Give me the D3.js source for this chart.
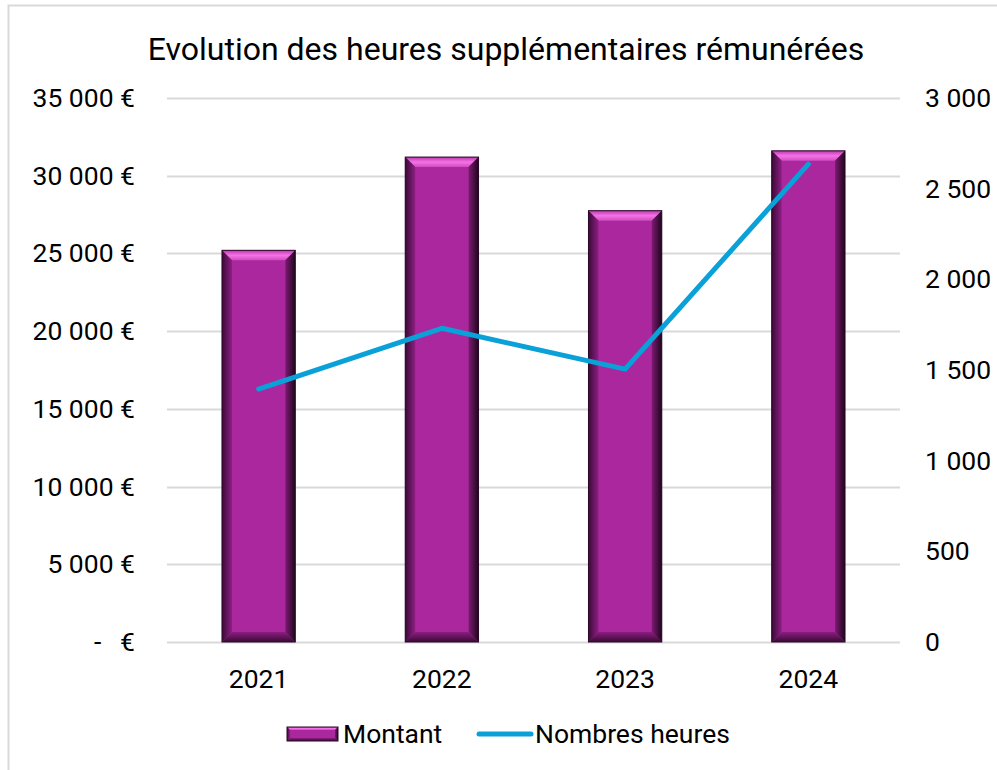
<!DOCTYPE html>
<html>
<head>
<meta charset="utf-8">
<script src="https://cdn.jsdelivr.net/npm/d3@7"></script>
<style>
  body { margin: 0; background: #fff; }
  text { font-family: Roboto, "Noto Sans", sans-serif; fill: #000; }
</style>
</head>
<body>
<div id="chart"></div>
<script>

// data
var years = ["2021", "2022", "2023", "2024"];
var montant = [25200, 31200, 27750, 31600];
var heures = [1395, 1730, 1505, 2635];
var leftTicks = [0, 5000, 10000, 15000, 20000, 25000, 30000, 35000];
var rightTicks = [0, 500, 1000, 1500, 2000, 2500, 3000];

var W = 997, H = 770;
var margin = {top: 98, right: 97, bottom: 128, left: 167},
    width = W - margin.left - margin.right,
    height = H - margin.top - margin.bottom;

var svg = d3.select("#chart")
  .append("svg")
    .attr("width", W)
    .attr("height", H);

// chart border
svg.append("rect")
  .attr("x", 8.5).attr("y", 5.5)
  .attr("width", W + 20).attr("height", H + 20)
  .attr("fill", "none")
  .attr("stroke", "#d9d9d9")
  .attr("stroke-width", 2);

// title
svg.append("text")
  .attr("x", 506).attr("y", 60)
  .attr("text-anchor", "middle")
  .style("font-size", "32px")
  .text("Evolution des heures supplémentaires rémunérées");

var g = svg.append("g")
  .attr("transform", "translate(" + margin.left + "," + margin.top + ")");

var x = d3.scaleBand()
  .domain(years)
  .range([0, width])
  .paddingInner(0.6)
  .paddingOuter(0.3);

var yL = d3.scaleLinear().domain([0, 35000]).range([height, 0]);
var yR = d3.scaleLinear().domain([0, 3000]).range([height, 0]);

// gridlines
g.append("g")
  .selectAll("line")
  .data(leftTicks)
  .enter().append("line")
    .attr("x1", 0).attr("x2", width)
    .attr("y1", function(d) { return Math.round(yL(d)) + 0.5 })
    .attr("y2", function(d) { return Math.round(yL(d)) + 0.5 })
    .attr("stroke", "#d9d9d9")
    .attr("stroke-width", 2);

var fs = "26.5px";

// left axis labels (accounting style)
g.append("g")
  .selectAll("text")
  .data(leftTicks)
  .enter().append("text")
    .attr("x", -32)
    .attr("y", function(d) { return yL(d) + 9 })
    .attr("text-anchor", "end")
    .style("font-size", fs)
    .text(function(d) { return d === 0 ? "€" : d3.format(",")(d).replace(/,/g, " ") + " €" });
g.append("text")
  .attr("x", -73)
  .attr("y", yL(0) + 9)
  .style("font-size", fs)
  .text("-");

// right axis labels
g.append("g")
  .selectAll("text")
  .data(rightTicks)
  .enter().append("text")
    .attr("x", width + 25)
    .attr("y", function(d) { return yR(d) + 9 })
    .attr("text-anchor", "start")
    .style("font-size", fs)
    .text(function(d) { return d3.format(",")(d).replace(/,/g, " ") });

// x labels
g.append("g")
  .selectAll("text")
  .data(years)
  .enter().append("text")
    .attr("x", function(d) { return x(d) + x.bandwidth() / 2 })
    .attr("y", height + 46)
    .attr("text-anchor", "middle")
    .style("font-size", fs)
    .text(function(d) { return d });

// gradients for the bevelled bars
var defs = svg.append("defs");
var gl = defs.append("linearGradient").attr("id", "bevL").attr("x1", 0).attr("x2", 1);
gl.append("stop").attr("offset", 0).attr("stop-color", "#3b0a37");
gl.append("stop").attr("offset", 1).attr("stop-color", "#8e1f84");
var gr = defs.append("linearGradient").attr("id", "bevR").attr("x1", 0).attr("x2", 1);
gr.append("stop").attr("offset", 0).attr("stop-color", "#7d1a73");
gr.append("stop").attr("offset", 1).attr("stop-color", "#1e061c");
var gt = defs.append("linearGradient").attr("id", "bevT").attr("x1", 0).attr("x2", 0).attr("y1", 0).attr("y2", 1);
gt.append("stop").attr("offset", 0).attr("stop-color", "#b93aac");
gt.append("stop").attr("offset", 0.5).attr("stop-color", "#f672e6");
gt.append("stop").attr("offset", 1).attr("stop-color", "#cf4bc0");
var gb = defs.append("linearGradient").attr("id", "bevB").attr("x1", 0).attr("x2", 0).attr("y1", 0).attr("y2", 1);
gb.append("stop").attr("offset", 0).attr("stop-color", "#8a1e80");
gb.append("stop").attr("offset", 1).attr("stop-color", "#3a0a36");

function bevelBar(sel, bx, by, bw, bh, b) {
  sel.append("rect")
    .attr("x", bx).attr("y", by).attr("width", bw).attr("height", bh)
    .attr("fill", "#ab279d");
  var pts = function(a) { return a.map(function(p) { return p.join(",") }).join(" ") };
  sel.append("polygon").attr("fill", "url(#bevT)")
    .attr("points", pts([[bx, by], [bx + bw, by], [bx + bw - b, by + b], [bx + b, by + b]]));
  sel.append("polygon").attr("fill", "url(#bevL)")
    .attr("points", pts([[bx, by], [bx + b, by + b], [bx + b, by + bh - b], [bx, by + bh]]));
  sel.append("polygon").attr("fill", "url(#bevR)")
    .attr("points", pts([[bx + bw, by], [bx + bw, by + bh], [bx + bw - b, by + bh - b], [bx + bw - b, by + b]]));
  sel.append("polygon").attr("fill", "url(#bevB)")
    .attr("points", pts([[bx, by + bh], [bx + b, by + bh - b], [bx + bw - b, by + bh - b], [bx + bw, by + bh]]));
  sel.append("rect")
    .attr("x", bx).attr("y", by).attr("width", bw).attr("height", bh)
    .attr("fill", "none")
    .attr("stroke", "#2a0827")
    .attr("stroke-width", 1);
}

// bars
years.forEach(function(yr, i) {
  var bx = x(yr), by = yL(montant[i]);
  bevelBar(g.append("g"), bx, by, x.bandwidth(), yL(0) - by, 10);
});

// line
var line = d3.line()
  .x(function(d, i) { return x(years[i]) + x.bandwidth() / 2 })
  .y(function(d) { return yR(d) });

g.append("path")
  .datum(heures)
  .attr("fill", "none")
  .attr("stroke", "#0aa0d8")
  .attr("stroke-width", 5)
  .attr("stroke-linecap", "round")
  .attr("stroke-linejoin", "round")
  .attr("d", line);

// legend
var leg = svg.append("g");
bevelBar(leg.append("g"), 287, 727, 51, 14, 3);
leg.append("text").attr("x", 343).attr("y", 743).style("font-size", fs).text("Montant");
leg.append("line")
  .attr("x1", 479).attr("x2", 531).attr("y1", 734).attr("y2", 734)
  .attr("stroke", "#0aa0d8").attr("stroke-width", 5).attr("stroke-linecap", "round");
leg.append("text").attr("x", 535).attr("y", 743).style("font-size", fs).text("Nombres heures");

</script>
</body>
</html>
